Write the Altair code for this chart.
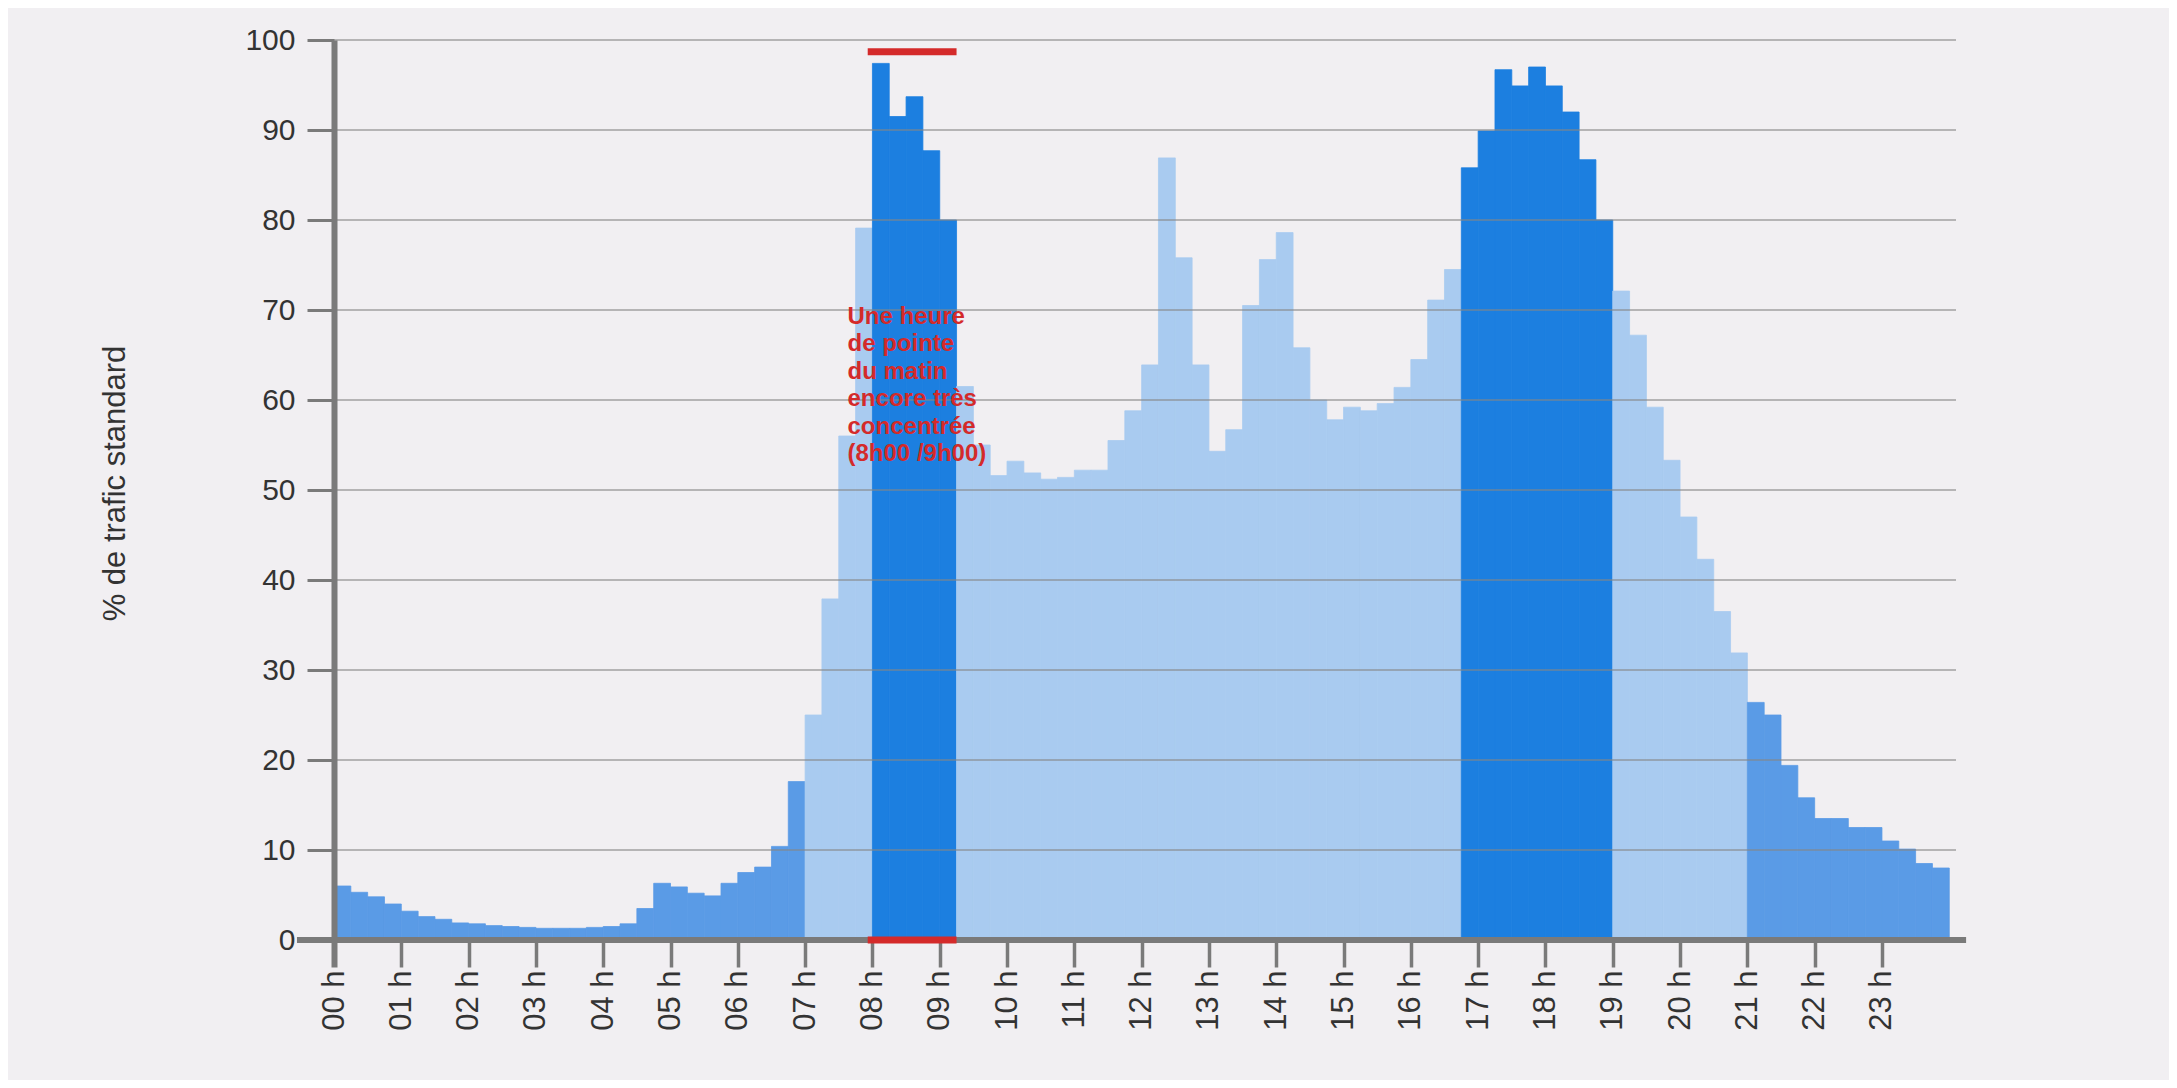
import json
import altair as alt
import pandas as pd

# Share of standard traffic (%) per quarter hour, 00:00 -> 23:45
values = [
    6.0, 5.3, 4.8, 4.0, 3.2, 2.6, 2.3, 1.9,
    1.8, 1.6, 1.5, 1.4, 1.3, 1.3, 1.3, 1.4,
    1.5, 1.8, 3.5, 6.3, 5.9, 5.2, 4.9, 6.3,
    7.5, 8.1, 10.4, 17.6, 25.0, 37.9, 56.0, 79.1,
    97.4, 91.5, 93.7, 87.7, 80.0, 61.5, 55.0, 51.6,
    53.2, 51.9, 51.2, 51.4, 52.2, 52.2, 55.5, 58.8,
    63.9, 86.9, 75.8, 63.9, 54.3, 56.7, 70.5, 75.6,
    78.6, 65.8, 60.0, 57.8, 59.2, 58.8, 59.6, 61.4,
    64.5, 71.1, 74.5, 85.8, 89.9, 96.7, 94.9, 97.0,
    94.9, 92.0, 86.7, 80.0, 72.1, 67.2, 59.2, 53.3,
    47.0, 42.3, 36.5, 31.9, 26.4, 25.0, 19.4, 15.8,
    13.5, 13.5, 12.5, 12.5, 11.0, 10.1, 8.5, 8.0,
]

# Periods (first bar index, end bar index exclusive)
segments = [
    ("nuit", 0, 28),
    ("journée", 28, 32),
    ("pointe", 32, 37),
    ("journée", 37, 67),
    ("pointe", 67, 76),
    ("journée", 76, 84),
    ("nuit", 84, 96),
]
period_names = ["nuit", "journée", "pointe"]
period_colors = ["#5a9be6", "#a9cbf0", "#1c7fe0"]

hour_ticks = list(range(24))
hour_labels = [f"{h:02d} h" for h in hour_ticks]
y_ticks = list(range(0, 101, 10))
grid_levels = list(range(10, 101, 10))

annotation_lines = [
    "Une heure",
    "de pointe",
    "du matin",
    "encore très",
    "concentrée",
    "(8h00 /9h00)",
]

period = []
for name, a, b in segments:
    period += [name] * (b - a)

bars_df = pd.DataFrame({
    "start": [i / 4 for i in range(len(values))],
    "end": [(i + 1) / 4 for i in range(len(values))],
    "value": values,
    "zero": [0] * len(values),
    "period": period,
})

FONT = "Liberation Sans"
AX = "#7a7a7a"
RED = "#d42a2a"

x_scale = alt.Scale(domain=[0, 24.1], nice=False, zero=False)
y_scale = alt.Scale(domain=[0, 100], nice=False)
c_scale = alt.Scale(domain=period_names, range=period_colors)

x_axis = alt.Axis(
    values=hour_ticks,
    labelExpr=f"{json.dumps(hour_labels)}[datum.value]",
    labelAngle=270,
    labelFont=FONT,
    labelFontSize=31,
    labelColor="#333333",
    labelPadding=3,
    domain=False,
    ticks=True,
    tickSize=27,
    tickColor=AX,
    tickWidth={"condition": {"test": "datum.value === 0", "value": 6}, "value": 3.5},
    grid=False,
    title=None,
)

y_axis = alt.Axis(
    values=y_ticks,
    labelFont=FONT,
    labelFontSize=30,
    labelColor="#333333",
    labelPadding=12,
    domain=True,
    domainColor=AX,
    domainWidth=6,
    ticks=True,
    tickSize=27,
    tickWidth=3,
    tickColor=AX,
    grid=False,
    zindex=1,
    title="% de trafic standard",
    titleFont=FONT,
    titleFontSize=31,
    titleFontWeight="normal",
    titleColor="#333333",
    titleAngle=270,
    titleX=-219,
    titleY=443,
    titleAlign="center",
    titleBaseline="middle",
)

bars = alt.Chart(bars_df).mark_rect(strokeWidth=0.8).encode(
    x=alt.X("start:Q", scale=x_scale, axis=x_axis),
    x2="end:Q",
    y=alt.Y("value:Q", scale=y_scale, axis=y_axis),
    y2="zero:Q",
    color=alt.Color("period:N", scale=c_scale, legend=None),
    stroke=alt.Stroke("period:N", scale=c_scale, legend=None),
)

grid = alt.Chart(pd.DataFrame({"value": grid_levels})).mark_rule(
    color="#858585", strokeWidth=1.5, opacity=0.75
).encode(y="value:Q")

baseline = alt.Chart(pd.DataFrame({"start": [-0.55], "end": [24.25], "value": [0]})).mark_rule(
    color=AX, strokeWidth=6
).encode(x="start:Q", x2="end:Q", y="value:Q")

red_marks = alt.Chart(pd.DataFrame({"start": [7.93, 7.93], "end": [9.25, 9.25], "value": [98.7, 0]})).mark_rule(
    color=RED, strokeWidth=7
).encode(x="start:Q", x2="end:Q", y="value:Q")

note = alt.Chart(pd.DataFrame({"start": [7.63], "value": [70.6]})).mark_text(
    text=annotation_lines,
    align="left",
    baseline="top",
    font=FONT,
    fontWeight="bold",
    fontSize=24,
    lineHeight=27.5,
    color=RED,
).encode(x="start:Q", y="value:Q")

chart = alt.layer(bars, grid, baseline, red_marks, note).properties(
    width=1622,
    height=900,
    background="#f1eff2",
    padding={"left": 326, "top": 32, "right": 213, "bottom": 140},
    autosize=alt.AutoSizeParams(type="none"),
).configure_view(stroke=None)

chart.save("out.html", embed_options={"renderer": "svg", "actions": False})
